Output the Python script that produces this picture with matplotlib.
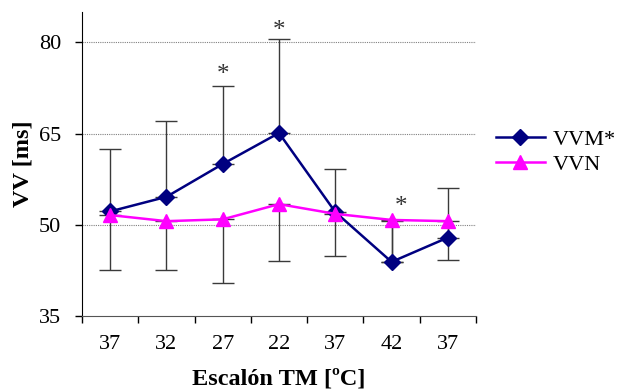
import numpy as np
import matplotlib
matplotlib.use("Agg")
import matplotlib.pyplot as plt

# ----------------------------
# Data
# ----------------------------
steps = ["37", "32", "27", "22", "37", "42", "37"]

vvm = [52.2, 54.6, 60.0, 65.1, 52.1, 43.9, 47.9]
vvm_err_up = [10.2, 12.5, 12.9, 15.5, 7.1, 6.8, 8.1]

vvn = [51.6, 50.6, 50.9, 53.4, 51.8, 50.8, 50.6]
vvn_err_down = [9.0, 8.1, 10.4, 9.4, 6.9, 6.9, 6.4]

# asterisk marks: (category index, y value)
star_pos = [2, 3, 5]
star_y = [74.6, 81.9, 53.0]

plt.rcParams["font.family"] = ["Liberation Serif", "DejaVu Serif"]

fig = plt.figure(figsize=(6.22, 3.91), dpi=100)
ax = fig.add_axes([0.1318, 0.1918, 0.6335, 0.7775])

x = np.arange(1, len(steps) + 1)

# error bars first (drawn under the lines)
ax.errorbar(x, vvm, yerr=[np.zeros(len(vvm)), vvm_err_up], fmt="none",
            ecolor="#3a3a3a", elinewidth=1.0, capsize=8, capthick=1.0, zorder=2)
ax.errorbar(x, vvn, yerr=[vvn_err_down, np.zeros(len(vvn))], fmt="none",
            ecolor="#3a3a3a", elinewidth=1.0, capsize=8, capthick=1.0, zorder=2)

ax.plot(x, vvm, color="#000080", marker="D", markersize=8, linewidth=1.8,
        label="VVM*", zorder=3)
ax.plot(x, vvn, color="#FF00FF", marker="^", markersize=10, linewidth=1.8,
        label="VVN", zorder=4)

for i, yv in zip(star_pos, star_y):
    ax.text(x[i] + (0.16 if i == 5 else 0), yv, "*", ha="center", va="center",
            fontsize=18, color="#333333")

ax.set_xlim(0.5, len(steps) + 0.5)
ax.set_ylim(35, 85)
ax.set_yticks([35, 50, 65, 80])
ax.set_xticks(x)
ax.set_xticklabels(steps)
ax.set_xticks(np.arange(0.5, len(steps) + 1, 1), minor=True)
ax.tick_params(axis="x", which="major", length=0, pad=14, labelsize=16)
ax.tick_params(axis="x", which="minor", length=5, width=1, direction="out")
ax.tick_params(axis="y", length=5, width=1, direction="out", labelsize=16, pad=10)

for yv in [50, 65, 80]:
    ax.axhline(yv, color="#808080", linestyle=(0, (1, 1)), linewidth=0.8, zorder=1)

for side in ["top", "right"]:
    ax.spines[side].set_visible(False)
ax.spines["left"].set_color("black")
ax.spines["bottom"].set_color("#555555")

ax.set_ylabel("VV [ms]", fontsize=17.5, fontweight="bold", labelpad=4)
ax.set_xlabel("Escalón TM [ºC]", fontsize=17.5, fontweight="bold", labelpad=10)

ax.legend(loc="center left", bbox_to_anchor=(0.797, 0.61), bbox_transform=fig.transFigure,
          frameon=False, fontsize=16, handlelength=2.2, handletextpad=0.35,
          labelspacing=0.2, borderaxespad=0, borderpad=0)

plt.savefig("out.png", dpi=100)
